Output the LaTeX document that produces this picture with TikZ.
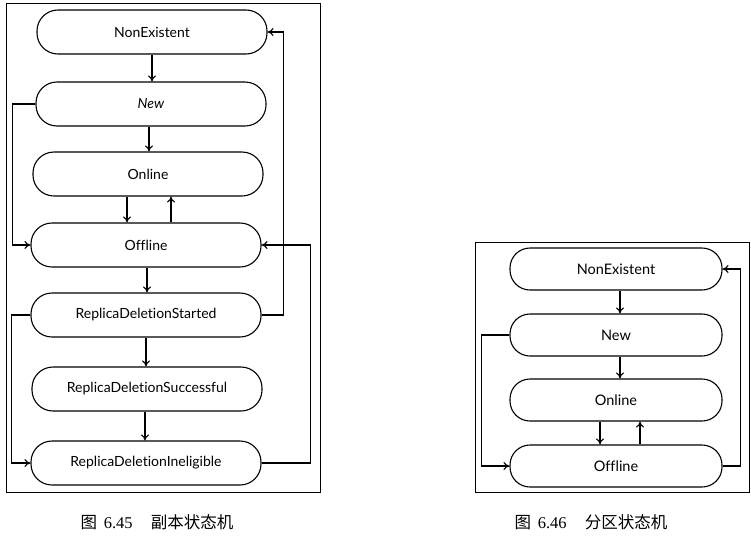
\documentclass[tikz,border=0pt]{standalone}
\usepackage{fontspec}
\setmainfont{Lato}[Ligatures=NoCommon]
\newfontfamily\cjk{Noto Sans CJK SC}
\newfontfamily\capserif{Liberation Serif}
\usetikzlibrary{arrows.meta}
\begin{document}
\begin{tikzpicture}[x=1pt,y=-1pt,
  st/.style={draw,line width=1.1pt,rectangle,rounded corners=21pt,minimum width=230pt,minimum height=44pt,inner sep=0pt,font=\fontsize{14}{16}\selectfont},
  stR/.style={st,minimum width=212pt,minimum height=42pt,rounded corners=20pt,font=\fontsize{14.5}{16}\selectfont},
  arr/.style={line width=1.1pt,-{To[length=6pt,width=8pt]}},
  frm/.style={draw,line width=0.9pt},
  captext/.style={font=\fontsize{16.5}{19}\selectfont}]
\useasboundingbox (0,0) rectangle (751,536);
% left frame
\draw[frm] (6,3) rectangle (320,492);
% left nodes
\node[st] (ne) at (152,32) {NonExistent};
\node[st] (new) at (151,104) {\itshape New};
\node[st] (on) at (148,174) {Online};
\node[st] (off) at (146,245) {Offline};
\node[st] (rds) at (146,315) {ReplicaDeletionStarted};
\node[st] (rdsu) at (147,389) {ReplicaDeletionSuccessful};
\node[st] (rdi) at (146,463) {ReplicaDeletionIneligible};
% left connectors
\draw[arr] (ne.south) -- (ne.south |- new.north);
\draw[arr] ([xshift=-2pt]new.south) -- ([xshift=-2pt]new.south |- on.north);
\draw[arr] ([xshift=-21pt]on.south) -- ([xshift=-21pt]on.south |- off.north);
\draw[arr] ([xshift=25pt]off.north) -- ([xshift=25pt]off.north |- on.south);
\draw[arr] ([xshift=1pt]off.south) -- ([xshift=1pt]off.south |- rds.north);
\draw[arr] (rds.south) -- (rds.south |- rdsu.north);
\draw[arr] ([xshift=-2pt]rdsu.south) -- ([xshift=-2pt]rdsu.south |- rdi.north);
\draw[arr] (new.west) -- ++(-23,0) |- (off.west);
\draw[arr] (rds.west) -- ++(-19,0) |- (rdi.west);
\draw[arr] (rds.east) -- ++(22,0) |- (ne.east);
\draw[arr] (rdi.east) -- ++(49,0) |- (off.east);
% right frame
\draw[frm] (475,242) rectangle (749,492);
% right nodes
\node[stR] (ne2) at (616,269) {NonExistent};
\node[stR] (new2) at (616,335) {New};
\node[stR] (on2) at (616,400) {Online};
\node[stR] (off2) at (616,466) {Offline};
\draw[arr] ([xshift=4pt]ne2.south) -- ([xshift=4pt]ne2.south |- new2.north);
\draw[arr] ([xshift=4pt]new2.south) -- ([xshift=4pt]new2.south |- on2.north);
\draw[arr] ([xshift=-16pt]on2.south) -- ([xshift=-16pt]on2.south |- off2.north);
\draw[arr] ([xshift=24pt]off2.north) -- ([xshift=24pt]off2.north |- on2.south);
\draw[arr] (new2.west) -- ++(-28,0) |- (off2.west);
\draw[arr] (off2.east) -- ++(18,0) |- (ne2.east);
% captions
\node[captext] (cap1) at (157,522) {{\cjk 图}\kern0.4em{\capserif 6.45}\kern1.1em{\cjk 副本状态机}};
\node[captext] (cap2) at (591,522) {{\cjk 图}\kern0.4em{\capserif 6.46}\kern1.1em{\cjk 分区状态机}};
\end{tikzpicture}
\end{document}
